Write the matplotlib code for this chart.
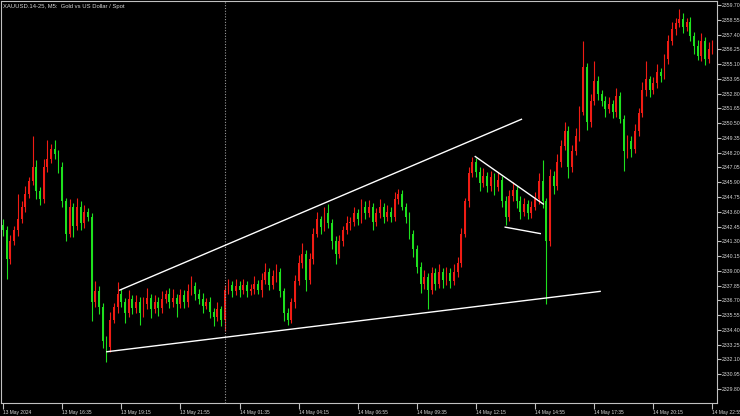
import matplotlib

matplotlib.use('Agg')
import matplotlib.pyplot as plt
import numpy as np

# M5-like candles (resampled), price values
first_open = 2342.6
closes = [
    2342.2, 2339.9, 2341.3, 2342.2, 2343.0, 2344.0, 2345.0, 2346.0, 2347.1, 2345.2,
    2344.6, 2347.1, 2347.7, 2348.5, 2348.1, 2347.1, 2344.4, 2341.9, 2344.0, 2342.5,
    2344.0, 2342.7, 2343.6, 2343.2, 2336.6, 2337.4, 2336.2, 2333.5, 2333.1, 2335.2,
    2336.2, 2337.2, 2336.6, 2335.7, 2336.8, 2336.1, 2336.6, 2335.7, 2336.4, 2336.9,
    2336.0, 2336.6, 2336.1, 2336.8, 2337.2, 2336.6, 2336.9, 2336.4, 2337.1, 2336.6,
    2337.4, 2337.8, 2337.2, 2336.8, 2336.3, 2336.6, 2335.8, 2335.4, 2336.0, 2335.2,
    2337.5, 2337.9, 2337.4, 2337.8, 2337.5, 2337.9, 2337.4, 2337.6, 2338.0, 2337.5,
    2338.3, 2338.9, 2337.9, 2338.6, 2338.9, 2337.4, 2335.7, 2335.2, 2336.6, 2338.2,
    2339.6, 2340.3, 2338.3, 2339.9, 2341.9, 2343.0, 2342.4, 2343.5, 2342.7, 2341.3,
    2340.3, 2341.3, 2342.2, 2342.7, 2342.8, 2343.5, 2343.0, 2344.0, 2343.5, 2344.0,
    2342.8, 2343.5, 2344.0, 2343.2, 2343.6, 2343.2, 2344.6, 2345.0, 2344.0, 2343.2,
    2341.9, 2340.7, 2339.3, 2338.0, 2338.5, 2337.5, 2338.8, 2338.0, 2338.9, 2338.3,
    2338.8, 2338.2, 2338.9, 2339.6, 2341.9, 2344.4, 2346.6, 2347.5, 2346.7, 2345.8,
    2346.4, 2345.6, 2346.3, 2345.5, 2346.1, 2344.4, 2343.2, 2344.8, 2345.3, 2344.4,
    2343.6, 2344.2, 2343.5, 2344.0, 2344.6, 2346.0, 2344.4, 2341.3, 2346.4, 2345.6,
    2347.5, 2348.7, 2349.9, 2347.1, 2348.3, 2349.5, 2351.4, 2354.9, 2350.6, 2352.2,
    2353.8, 2352.8, 2352.2, 2351.6, 2352.0, 2351.4, 2352.6, 2350.8, 2348.3, 2349.1,
    2348.5, 2349.9, 2351.3, 2353.1, 2353.9, 2353.1, 2353.6, 2354.5, 2354.2, 2355.5,
    2356.9, 2357.8, 2358.3, 2358.6, 2358.0, 2358.4, 2357.3, 2356.5, 2355.7, 2356.9,
    2355.5, 2356.3, 2356.7,
]
upper_wick = [
    0.4, 0.3, 0.5, 0.3, 2.0, 0.4, 0.6, 0.3, 2.4, 0.5,
    0.3, 0.6, 1.5, 0.4, 0.7, 0.3, 0.4, 0.3, 0.6, 0.3,
    0.7, 0.4, 0.5, 0.3, 0.3, 0.8, 0.4, 0.3, 0.4, 0.6,
    0.3, 0.9, 0.4, 0.3, 0.7, 0.3, 0.5, 0.4, 0.6, 0.8,
    0.3, 0.5, 0.4, 0.6, 0.3, 0.5, 0.7, 0.3, 0.5, 0.4,
    0.6, 0.8, 0.3, 0.4, 0.5, 0.3, 0.4, 0.3, 0.6, 0.3,
    0.4, 0.5, 0.3, 0.6, 0.4, 0.5, 0.3, 0.4, 0.6, 0.3,
    0.5, 0.7, 0.3, 0.5, 0.6, 0.3, 0.3, 0.4, 0.3, 0.5,
    0.6, 0.9, 0.3, 0.5, 0.4, 0.6, 0.3, 0.5, 0.7, 0.3,
    0.4, 0.5, 0.3, 0.6, 0.4, 0.5, 0.3, 0.6, 0.4, 0.5,
    0.3, 0.4, 0.6, 0.3, 0.5, 0.4, 0.5, 0.4, 0.3, 0.3,
    0.4, 0.3, 0.3, 0.4, 0.6, 0.3, 0.5, 0.4, 0.6, 0.3,
    0.5, 0.4, 0.6, 0.5, 0.4, 0.3, 0.5, 0.4, 0.3, 0.4,
    0.6, 0.3, 0.5, 0.3, 0.6, 0.3, 0.4, 0.5, 0.6, 0.3,
    0.4, 0.5, 0.3, 0.4, 0.5, 0.6, 1.6, 0.3, 0.5, 0.4,
    0.6, 0.5, 0.7, 0.4, 0.5, 0.6, 0.4, 2.0, 0.3, 0.6,
    1.5, 0.4, 0.3, 0.4, 0.5, 0.3, 0.6, 0.3, 0.3, 0.5,
    0.4, 0.5, 0.4, 0.6, 1.4, 0.3, 0.5, 0.6, 0.3, 0.4,
    0.5, 0.6, 0.4, 0.8, 0.5, 0.3, 0.4, 0.3, 0.5, 0.6,
    0.3, 0.5, 0.3,
]
lower_wick = [
    0.5, 1.5, 0.4, 0.3, 0.5, 0.3, 0.4, 0.3, 0.3, 0.6,
    0.5, 0.3, 0.4, 0.3, 0.4, 0.5, 0.4, 0.6, 0.3, 0.9,
    0.3, 0.5, 0.4, 0.3, 1.5, 0.4, 0.6, 0.5, 1.2, 0.4,
    0.3, 0.5, 0.4, 0.8, 0.3, 0.5, 0.4, 0.9, 0.3, 0.4,
    0.7, 0.3, 0.6, 0.4, 0.3, 0.5, 0.4, 1.0, 0.3, 0.5,
    0.4, 0.3, 0.5, 0.4, 0.6, 0.3, 0.5, 0.7, 0.3, 0.5,
    0.9, 0.3, 0.4, 0.3, 0.5, 0.3, 0.4, 0.3, 0.4, 0.3,
    0.5, 0.3, 0.4, 0.3, 0.5, 0.4, 0.6, 0.4, 0.3, 0.5,
    0.3, 0.4, 0.9, 0.3, 0.4, 0.3, 0.5, 0.3, 0.4, 0.6,
    0.8, 0.3, 0.4, 0.3, 0.5, 0.3, 0.4, 0.3, 0.5, 0.3,
    0.6, 0.3, 0.4, 0.5, 0.3, 0.4, 0.3, 0.4, 0.3, 0.5,
    0.4, 0.6, 0.5, 0.7, 0.4, 1.5, 0.3, 0.5, 0.3, 0.6,
    0.4, 0.5, 0.3, 0.4, 0.3, 0.3, 0.4, 0.3, 0.4, 0.6,
    0.3, 0.5, 0.4, 0.6, 0.3, 0.4, 0.6, 0.3, 0.4, 0.5,
    0.6, 0.3, 0.5, 0.4, 0.3, 0.4, 0.5, 4.9, 0.4, 0.6,
    0.3, 0.4, 0.3, 0.9, 0.4, 0.3, 0.4, 0.3, 0.6, 0.4,
    0.3, 0.5, 0.4, 0.6, 0.3, 0.5, 0.4, 0.3, 1.5, 0.5,
    0.6, 0.3, 0.4, 0.3, 0.5, 0.6, 0.3, 0.4, 0.5, 0.3,
    0.4, 0.3, 0.4, 0.3, 0.5, 0.3, 0.4, 0.6, 0.3, 0.4,
    0.5, 0.3, 0.4,
]

time_labels = ['13 May 2024', '13 May 16:35', '13 May 19:15', '13 May 21:55',
               '14 May 01:35', '14 May 04:15', '14 May 06:55', '14 May 09:35',
               '14 May 12:15', '14 May 14:55', '14 May 17:35', '14 May 20:15',
               '14 May 22:55']
label_bars = [0, 16, 32, 48, 64, 80, 96, 112, 128, 144, 160, 176, 192]
day_break_bar = 60

# hand-drawn trend lines: (bar, price) -> (bar, price)
trend_lines = [
    ((31.6, 2337.5), (140.3, 2350.8)),
    ((28.1, 2332.7), (161.6, 2337.4)),
    ((127.8, 2347.9), (146.2, 2344.2)),
    ((135.9, 2342.4), (145.4, 2341.9)),
]

title = 'XAUUSD.14-25, M5:  Gold vs US Dollar / Spot'

BULL = '#f01c14'
BEAR = '#1ee01e'
FRAME = '#c0c0c0'
TEXT = '#d8d8d8'


def main():
    plt.rcParams['font.family'] = ['Liberation Sans', 'DejaVu Sans']
    closes_a = np.array(closes)
    opens_a = np.concatenate([[first_open], closes_a[:-1]])
    highs = np.maximum(opens_a, closes_a) + np.array(upper_wick)
    lows = np.minimum(opens_a, closes_a) - np.array(lower_wick)
    x = np.arange(len(closes_a))
    colors = [BULL if c >= o else BEAR for o, c in zip(opens_a, closes_a)]

    fig = plt.figure(figsize=(7.4, 4.16), dpi=100, facecolor='black')
    ax = fig.add_axes([0.0014, 0.0313, 0.9676, 0.9663], facecolor='black')

    ax.vlines(x, lows, highs, colors=colors, linewidth=0.8)
    body_h = np.maximum(np.abs(closes_a - opens_a), 0.06)
    ax.bar(x, body_h, bottom=np.minimum(opens_a, closes_a), width=0.5,
           color=colors, linewidth=0)

    ax.axvline(day_break_bar, color='#9a9a9a', linestyle=(0, (1, 1.5)), linewidth=0.8)
    for (x0, y0), (x1, y1) in trend_lines:
        ax.plot([x0, x1], [y0, y1], color='white', linewidth=1.0)

    ax.set_xlim(-0.54, 193.24)
    ax.set_ylim(2328.71, 2360.01)

    yt = np.arange(2329.80, 2359.71, 1.15)
    ax.yaxis.tick_right()
    ax.set_yticks(yt)
    ax.set_yticklabels(['%.2f' % v for v in yt])
    ax.set_xticks(label_bars)
    ax.set_xticklabels(time_labels)
    for lab in ax.get_xticklabels():
        lab.set_horizontalalignment('left')
    ax.tick_params(axis='y', colors=FRAME, labelcolor=TEXT, length=3, width=0.8,
                   labelsize=3.7, pad=0.5)
    ax.tick_params(axis='x', colors=FRAME, labelcolor=TEXT, length=4, width=0.8,
                   labelsize=3.5, pad=0.8)

    for s in ax.spines.values():
        s.set_color(FRAME)
        s.set_linewidth(0.8)

    ax.text(0.003, 0.993, title, transform=ax.transAxes, ha='left', va='top',
            color=TEXT, fontsize=4.2)

    fig.savefig('out.png', dpi=100, facecolor='black')


if __name__ == '__main__':
    main()
